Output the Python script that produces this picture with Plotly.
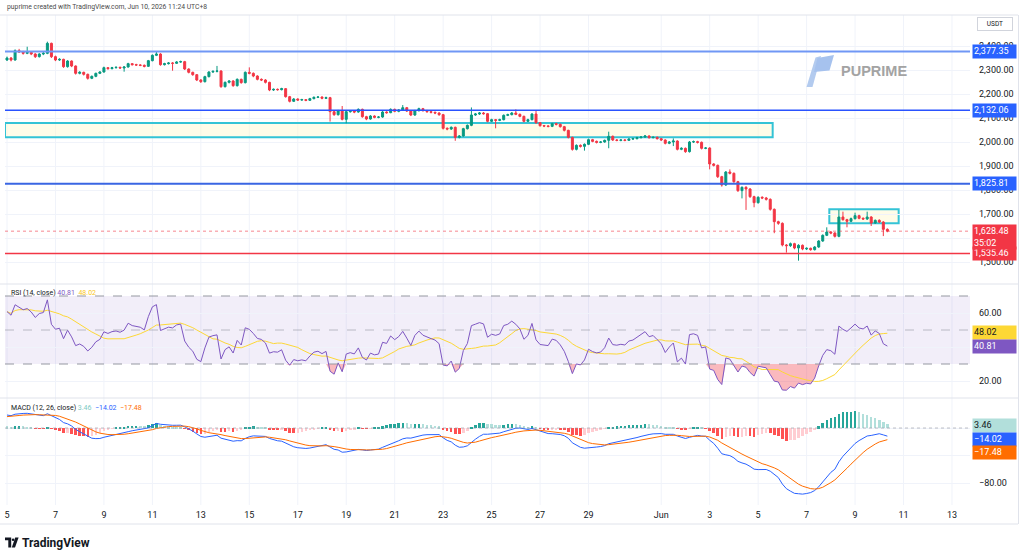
import numpy as np
import pandas as pd
import plotly.graph_objects as go

W, H = 1024, 558

# ---------------- data: 4h candles (UTC+8) ----------------
START = "2026-05-05 00:00"
FIRST_OPEN = 2341.7

closes = [
    2350.0, 2341.7, 2380.6, 2375.0, 2369.5, 2373.6, 2366.7, 2355.6, 2366.7, 2369.5,
    2411.1, 2355.6, 2341.7, 2344.5, 2313.9, 2337.5, 2316.7, 2286.1, 2290.3, 2282.0,
    2265.3, 2273.6, 2286.1, 2291.7, 2309.7, 2305.6, 2309.7, 2311.1, 2308.4, 2312.5,
    2326.4, 2322.2, 2320.9, 2319.5, 2315.3, 2338.9, 2361.1, 2366.7, 2322.2, 2326.4,
    2329.2, 2327.8, 2333.4, 2334.8, 2304.2, 2290.3, 2280.6, 2258.4, 2251.4, 2272.3,
    2291.7, 2294.5, 2295.9, 2230.6, 2248.6, 2254.2, 2234.8, 2261.1, 2247.3, 2290.3,
    2286.1, 2275.0, 2261.1, 2258.4, 2248.6, 2216.7, 2219.5, 2218.1, 2222.3, 2188.9,
    2169.5, 2179.2, 2175.0, 2176.4, 2173.6, 2180.6, 2186.1, 2187.5, 2182.0, 2184.8,
    2126.4, 2113.9, 2130.5, 2094.4, 2126.4, 2129.1, 2125.0, 2136.1, 2105.5, 2095.8,
    2108.3, 2102.8, 2104.1, 2125.0, 2122.2, 2136.1, 2127.8, 2133.3, 2143.0, 2129.1,
    2112.5, 2130.5, 2138.9, 2130.5, 2126.4, 2123.6, 2120.8, 2113.9, 2057.0, 2054.2,
    2061.1, 2019.4, 2025.0, 2055.6, 2069.4, 2112.5, 2116.6, 2120.8, 2118.0, 2086.1,
    2093.0, 2090.2, 2093.0, 2111.1, 2113.9, 2120.8, 2115.2, 2106.9, 2086.1, 2093.0,
    2116.6, 2080.5, 2068.0, 2066.6, 2065.2, 2076.4, 2073.6, 2063.9, 2048.6, 2019.4,
    1969.4, 1986.1, 1981.9, 1990.3, 2009.7, 2002.7, 1998.6, 2000.0, 2006.9, 2023.6,
    2008.3, 2006.9, 2008.3, 2006.9, 2012.5, 2013.9, 2018.0, 2020.8, 2025.0, 2018.0,
    2019.4, 2013.9, 2008.4, 1994.5, 2000.0, 2004.2, 1969.5, 1973.6, 1959.8, 2000.0,
    2001.4, 1998.6, 1973.6, 1975.0, 1908.4, 1902.8, 1855.6, 1820.9, 1875.0, 1869.5,
    1834.7, 1797.3, 1811.1, 1804.2, 1772.3, 1747.3, 1769.5, 1766.7, 1761.1, 1719.5,
    1668.1, 1661.1, 1570.9, 1568.1, 1576.4, 1558.4, 1569.5, 1554.2, 1557.0, 1551.4,
    1562.5, 1587.5, 1611.1, 1625.0, 1620.9, 1607.0, 1687.5, 1676.4, 1669.5, 1680.6,
    1693.1, 1682.0, 1679.2, 1687.5, 1662.5, 1673.6, 1666.7, 1636.1, 1628.48,
]
highs = [
    2356, 2354, 2386, 2388, 2380, 2397, 2378, 2370, 2370, 2375,
    2418, 2414, 2360, 2349, 2347, 2341, 2340, 2319, 2295, 2293,
    2285, 2277, 2289, 2295, 2314, 2312, 2313, 2315, 2314, 2316,
    2330, 2329, 2326, 2324, 2323, 2342, 2365, 2376, 2370, 2330,
    2333, 2333, 2337, 2339, 2338, 2307, 2293, 2283, 2262, 2276,
    2295, 2298, 2317, 2299, 2252, 2258, 2258, 2265, 2264, 2294,
    2311, 2290, 2278, 2265, 2262, 2251, 2223, 2223, 2226, 2225,
    2192, 2183, 2182, 2180, 2179, 2184, 2190, 2191, 2190, 2189,
    2188, 2130, 2134, 2150, 2130, 2133, 2133, 2140, 2139, 2109,
    2112, 2111, 2108, 2129, 2128, 2140, 2139, 2137, 2154, 2146,
    2132, 2134, 2143, 2142, 2134, 2129, 2127, 2124, 2117, 2061,
    2065, 2064, 2029, 2059, 2073, 2144, 2121, 2125, 2125, 2121,
    2097, 2096, 2097, 2115, 2118, 2125, 2136, 2119, 2110, 2097,
    2120, 2133, 2083, 2071, 2070, 2080, 2080, 2077, 2067, 2051,
    2022, 1990, 1990, 1994, 2014, 2013, 2006, 2004, 2010, 2043,
    2027, 2012, 2012, 2012, 2016, 2018, 2022, 2025, 2029, 2028,
    2024, 2023, 2017, 2011, 2004, 2015, 2007, 1978, 1977, 2004,
    2006, 2005, 2002, 1979, 1978, 1912, 1906, 1859, 1879, 1886,
    1873, 1838, 1815, 1816, 1808, 1776, 1774, 1774, 1771, 1765,
    1723, 1672, 1665, 1575, 1581, 1580, 1574, 1573, 1561, 1560,
    1566, 1591, 1615, 1644.5, 1629, 1624, 1716.7, 1709.7, 1680, 1685,
    1705.6, 1697, 1686, 1709.7, 1691, 1677, 1678, 1670, 1640,
]
lows = [
    2338, 2336, 2339, 2371, 2364, 2366, 2362, 2350, 2352, 2362,
    2366, 2350, 2337, 2338, 2309, 2310, 2312, 2281, 2282, 2277,
    2260, 2262, 2270, 2283, 2289, 2302, 2303, 2306, 2305, 2293,
    2310, 2319, 2317, 2316, 2311, 2313, 2336, 2358, 2318, 2319,
    2323, 2297, 2325, 2330, 2300, 2286, 2276, 2254, 2246, 2248,
    2269, 2288, 2290, 2226, 2227, 2244, 2230, 2231, 2243, 2244,
    2282, 2270, 2257, 2254, 2244, 2212, 2213, 2214, 2215, 2185,
    2165, 2167, 2171, 2172, 2170, 2171, 2178, 2183, 2178, 2179,
    2085, 2109, 2110, 2090, 2078, 2122, 2120, 2122, 2101, 2091,
    2093, 2099, 2099, 2101, 2118, 2120, 2124, 2124, 2130, 2125,
    2108, 2109, 2127, 2127, 2122, 2119, 2116, 2109, 2052, 2049,
    2050, 2005, 2015, 2022, 2052, 2066, 2109, 2113, 2114, 2082,
    2083, 2057, 2087, 2090, 2108, 2111, 2112, 2103, 2082, 2083,
    2090, 2076, 2064, 2062, 2061, 2062, 2069, 2060, 2044, 2015,
    1964, 1965, 1977, 1964, 1987, 1999, 1994, 1995, 1997, 1974,
    2004, 2003, 2003, 2003, 2004, 2009, 2011, 2015, 2017, 2014,
    2015, 2010, 2004, 1990, 1991, 1983, 1965, 1966, 1955, 1956,
    1996, 1994, 1969, 1970, 1886, 1898, 1850, 1814, 1817, 1865,
    1830, 1792, 1765, 1717, 1767, 1728, 1743, 1762, 1756, 1714,
    1620, 1655, 1565, 1539, 1563, 1553, 1505.6, 1549, 1550, 1547,
    1548, 1559, 1584, 1608, 1616, 1602, 1603, 1672, 1644.5, 1666,
    1677, 1678, 1675, 1675, 1650, 1659, 1662, 1608, 1624,
]

# indicator state at the left edge of the visible window
RSI_AVG_GAIN0, RSI_AVG_LOSS0 = 11.0, 7.5
EMA12_0, EMA26_0, SIGNAL0 = 2333.7, 2314.7, 16.0

# drawings / price levels
level_values = [2377.35, 2132.06, 1825.81, 1535.46]
level_colors = ["#7097f5", "#2952ff", "#3a66e3", "#f23645"]
level_widths = [2, 1.5, 2, 1.5]
level_box = ["#2962ff", "#2962ff", "#2962ff", "#f23645"]
last_price = 1628.48
countdown = "35:02"
zone1_low, zone1_high, zone1_end = 2020.0, 2079.0, "2026-06-05 14:24"
zone2_low, zone2_high = 1661.2, 1719.6
zone2_start, zone2_end = "2026-06-07 22:30", "2026-06-10 19:12"

# last indicator values shown in the legends / scale
rsi_last, rsi_ma_last = 40.81, 48.02
hist_last, macd_last, signal_last = 3.46, -14.02, -17.48

# axis ticks (labels hidden behind value boxes are left blank)
day_ticks = ["2026-05-05", "2026-05-07", "2026-05-09", "2026-05-11", "2026-05-13",
             "2026-05-15", "2026-05-17", "2026-05-19", "2026-05-21", "2026-05-23",
             "2026-05-25", "2026-05-27", "2026-05-29", "2026-06-01", "2026-06-03",
             "2026-06-05", "2026-06-07", "2026-06-09", "2026-06-11", "2026-06-13"]
day_labels = ["5", "7", "9", "11", "13", "15", "17", "19", "21", "23", "25", "27",
              "29", "Jun", "3", "5", "7", "9", "11", "13"]
price_ticks = [1500, 1600, 1700, 1800, 1900, 2000, 2100, 2200, 2300, 2400]
price_labels = ["1,500.00", "", "1,700.00", "1,800.00", "1,900.00", "2,000.00",
                "2,100.00", "2,200.00", "2,300.00", "2,400.00"]
rsi_ticks = [20, 40, 60]
rsi_labels = ["20.00", "", "60.00"]
macd_ticks = [0, -40, -80]
macd_labels = ["", "", "\u221280.00"]

# ---------------- derived series ----------------
t = pd.date_range(START, periods=len(closes), freq="4h")
c = np.array(closes, float)
o = np.concatenate([[FIRST_OPEN], c[:-1]])
n = len(c)

ag, al = RSI_AVG_GAIN0, RSI_AVG_LOSS0
rsi = np.empty(n)
for k in range(n):
    d = c[k] - o[k]
    ag = (ag * 13 + max(d, 0)) / 14
    al = (al * 13 + max(-d, 0)) / 14
    rsi[k] = 100 - 100 / (1 + ag / al) if al > 0 else 100
rsi_ma = pd.Series(rsi).rolling(14, min_periods=1).mean().values

a12, a26, a9 = 2 / 13, 2 / 27, 2 / 10
e12, e26, sg = EMA12_0, EMA26_0, SIGNAL0
prev_h = (EMA12_0 - EMA26_0) - SIGNAL0
macd = np.empty(n); sig = np.empty(n); hist = np.empty(n); hcol = []
for k in range(n):
    e12 = a12 * c[k] + (1 - a12) * e12
    e26 = a26 * c[k] + (1 - a26) * e26
    m = e12 - e26
    sg = a9 * m + (1 - a9) * sg
    macd[k], sig[k] = m, sg
    h = m - sg
    hist[k] = h
    if h >= 0:
        hcol.append("#26a69a" if h > prev_h else "#b2dfdb")
    else:
        hcol.append("#ff5252" if h < prev_h else "#ffcdd2")
    prev_h = h

# ---------------- geometry helpers ----------------
def px(x):
    return x / W

def py(y):
    return 1 - y / H

DAYPX = 24.23
X0PIX = 7.0
t0 = pd.Timestamp(START)
def tx(pix):
    return t0 + pd.Timedelta(days=(pix - X0PIX) / DAYPX)

x_range = [tx(5), tx(970)]
FONT = "Roboto, Liberation Sans, sans-serif"
TXT = "#131722"
GRID = "#f0f3fa"
BORDER = "#e0e3eb"

fig = go.Figure()

# ---- main pane ----
fig.add_trace(go.Candlestick(
    x=t, open=o, high=highs, low=lows, close=c, xaxis="x", yaxis="y",
    increasing=dict(line=dict(color="#089981", width=1), fillcolor="#089981"),
    decreasing=dict(line=dict(color="#f23645", width=1), fillcolor="#f23645"),
    whiskerwidth=0, hoverinfo="skip", showlegend=False))

# ---- RSI pane ----
fig.add_trace(go.Scatter(x=t, y=np.full(n, 30.0), yaxis="y2", mode="lines",
                         line=dict(width=0, color="rgba(0,0,0,0)"), hoverinfo="skip"))
fig.add_trace(go.Scatter(x=t, y=np.minimum(rsi, 30), yaxis="y2", mode="lines",
                         line=dict(width=0, color="rgba(0,0,0,0)"), fill="tonexty",
                         fillcolor="rgba(242,54,69,0.35)", hoverinfo="skip"))
fig.add_trace(go.Scatter(x=t, y=np.full(n, 70.0), yaxis="y2", mode="lines",
                         line=dict(width=0, color="rgba(0,0,0,0)"), hoverinfo="skip"))
fig.add_trace(go.Scatter(x=t, y=np.maximum(rsi, 70), yaxis="y2", mode="lines",
                         line=dict(width=0, color="rgba(0,0,0,0)"), fill="tonexty",
                         fillcolor="rgba(8,153,129,0.3)", hoverinfo="skip"))
fig.add_trace(go.Scatter(x=t, y=rsi_ma, yaxis="y2", mode="lines",
                         line=dict(width=1, color="#fdd835"), hoverinfo="skip"))
fig.add_trace(go.Scatter(x=t, y=rsi, yaxis="y2", mode="lines",
                         line=dict(width=1, color="#7e57c2"), hoverinfo="skip"))

# ---- MACD pane ----
fig.add_trace(go.Bar(x=t, y=hist, yaxis="y3", marker=dict(color=hcol, line=dict(width=0)),
                     width=4 * 3600 * 1000 * 0.62, hoverinfo="skip"))
fig.add_trace(go.Scatter(x=t, y=macd, yaxis="y3", mode="lines",
                         line=dict(width=1, color="#2962ff"), hoverinfo="skip"))
fig.add_trace(go.Scatter(x=t, y=sig, yaxis="y3", mode="lines",
                         line=dict(width=1, color="#ff6d00"), hoverinfo="skip"))

shapes = []
# vertical grid lines at the date ticks
for d in day_ticks:
    shapes.append(dict(type="line", xref="x", yref="paper", x0=d, x1=d,
                       y0=py(505), y1=py(15), line=dict(color=GRID, width=1), layer="below"))
# pane borders
for yy in (15, 284, 398, 524):
    shapes.append(dict(type="line", xref="paper", yref="paper", x0=0, x1=px(1018),
                       y0=py(yy), y1=py(yy), line=dict(color=BORDER, width=1)))
shapes.append(dict(type="line", xref="paper", yref="paper", x0=px(1018.5), x1=px(1018.5),
                   y0=py(524), y1=py(15), line=dict(color=BORDER, width=1)))

# zones
shapes.append(dict(type="rect", xref="x", yref="y", x0=x_range[0], x1=zone1_end,
                   y0=zone1_low, y1=zone1_high, fillcolor="rgba(255,249,205,0.45)",
                   line=dict(color="#34c3d6", width=2), layer="below"))
shapes.append(dict(type="rect", xref="x", yref="y", x0=zone2_start, x1=zone2_end,
                   y0=zone2_low, y1=zone2_high, fillcolor="rgba(255,249,205,0.45)",
                   line=dict(color="#34c3d6", width=2), layer="below"))
# horizontal levels
for v, col, wd in zip(level_values, level_colors, level_widths):
    shapes.append(dict(type="line", xref="x domain", yref="y", x0=0, x1=1, y0=v, y1=v,
                       line=dict(color=col, width=wd)))
shapes.append(dict(type="line", xref="x domain", yref="y", x0=0, x1=1, y0=last_price,
                   y1=last_price, line=dict(color="rgba(242,54,69,0.6)", width=1, dash="dot")))

# RSI band + guides
shapes.append(dict(type="rect", xref="x domain", yref="y2", x0=0, x1=1, y0=30, y1=70,
                   fillcolor="rgba(126,87,194,0.1)", line=dict(width=0), layer="below"))
for v, colr in ((70, "#9598a1"), (50, "rgba(149,152,161,0.6)"), (30, "#9598a1")):
    shapes.append(dict(type="line", xref="x domain", yref="y2", x0=0, x1=1, y0=v, y1=v,
                       line=dict(color=colr, width=1, dash="dash")))
# MACD zero line
shapes.append(dict(type="line", xref="x domain", yref="y3", x0=0, x1=1, y0=0, y1=0,
                   line=dict(color="rgba(149,152,161,0.6)", width=1, dash="dot")))

# PUPRIME watermark icon
def pth(pts):
    return "M " + " L ".join(f"{px(a):.5f} {py(b):.5f}" for a, b in pts) + " Z"

shapes.append(dict(type="path", xref="paper", yref="paper",
                   path=pth([(806.5, 87), (815.5, 57.5), (821, 56), (812.5, 87)]),
                   fillcolor="#b3cbef", line=dict(width=0)))
shapes.append(dict(type="path", xref="paper", yref="paper",
                   path=pth([(817.5, 58), (834, 55), (829.5, 70.5), (814, 72)]),
                   fillcolor="#a6c2ee", line=dict(width=0)))
# TradingView logo glyph
shapes.append(dict(type="path", xref="paper", yref="paper",
                   path=pth([(5, 537.5), (11.2, 537.5), (11.2, 547.5), (8.3, 547.5), (8.3, 540.3), (5, 540.3)]),
                   fillcolor=TXT, line=dict(width=0)))
shapes.append(dict(type="circle", xref="paper", yref="paper", x0=px(11.8), x1=px(14.4),
                   y0=py(541), y1=py(538.4), fillcolor=TXT, line=dict(width=0)))
shapes.append(dict(type="path", xref="paper", yref="paper",
                   path=pth([(15.2, 537.5), (18.6, 537.5), (15.0, 547.5), (11.8, 547.5)]),
                   fillcolor=TXT, line=dict(width=0)))

ann = []
def label(y, yref, text, bg, fg="white", yshift=0, yanchor="middle", h=10.5):
    ann.append(dict(xref="paper", x=px(972), xanchor="left", yref=yref, y=y, yanchor=yanchor,
                    yshift=yshift, text=text, showarrow=False, bgcolor=bg, align="left",
                    width=41, height=h, valign="middle", borderpad=1,
                    font=dict(family=FONT, size=9, color=fg)))

for v, bg in zip(level_values, level_box):
    label(v, "y", f"{v:,.2f}", bg)
label(last_price, "y", f"{last_price:,.2f}<br>{countdown}", "#f23645", yanchor="top",
      yshift=7, h=22)
label(rsi_ma_last, "y2", f"{rsi_ma_last:.2f}", "#fdd835", fg=TXT, yshift=0.5)
label(rsi_last, "y2", f"{rsi_last:.2f}", "#7e57c2", yshift=-0.5)
label(hist_last, "y3", f"{hist_last:.2f}", "#b2dfdb", fg=TXT, yshift=0.5)
label(macd_last, "y3", f"\u2212{abs(macd_last):.2f}", "#2962ff", yshift=-1.5)
label(signal_last, "y3", f"\u2212{abs(signal_last):.2f}", "#ff6d00", yshift=-12)

def txt(x, y, text, size, color=TXT, family=FONT, anchor="left"):
    ann.append(dict(xref="paper", yref="paper", x=px(x), y=py(y), xanchor=anchor,
                    yanchor="middle", text=text, showarrow=False,
                    font=dict(family=family, size=size, color=color)))

txt(5, 7.5, "puprime created with TradingView.com, Jun 10, 2026 11:24 UTC+8", 6.8, "#4a4a4a")
txt(9, 293, "RSI (14, close) <span style='color:#7e57c2'>%.2f</span>  "
            "<span style='color:#f9c623'>%.2f</span>" % (rsi_last, rsi_ma_last), 7)
txt(9, 408, "MACD (12, 26, close) <span style='color:#80cbc4'>%.2f</span>  "
            "<span style='color:#2962ff'>\u2212%.2f</span>  <span style='color:#ff6d00'>\u2212%.2f</span>"
    % (hist_last, abs(macd_last), abs(signal_last)), 7)
txt(839, 71.5, "<b>PUPRIME</b>", 14.5, "#a3a3a3", "Liberation Sans, Arial, sans-serif")
txt(20, 542.5, "<b>TradingView</b>", 12, TXT)
ann.append(dict(xref="paper", yref="paper", x=px(995), y=py(24), xanchor="center",
                yanchor="middle", text="USDT", showarrow=False, bgcolor="white",
                bordercolor="#d1d4dc", borderwidth=1, borderpad=2, width=30,
                font=dict(family=FONT, size=6.5, color=TXT)))

XD = [px(5), px(970)]
yaxis_common = dict(anchor="x", side="right", showgrid=True, gridcolor=GRID, zeroline=False,
                    showline=False, ticks="", ticklabelstandoff=8, fixedrange=True,
                    tickfont=dict(family=FONT, size=9, color=TXT))

fig.update_layout(
    width=W, height=H, margin=dict(l=0, r=0, t=0, b=0), showlegend=False,
    paper_bgcolor="white", plot_bgcolor="white", hovermode=False, bargap=0,
    shapes=shapes, annotations=ann,
    xaxis=dict(domain=XD, anchor="y3", type="date", range=x_range, tickvals=day_ticks,
               ticktext=day_labels, showgrid=False, zeroline=False, showline=False, ticks="",
               ticklabelstandoff=3, rangeslider=dict(visible=False),
               tickfont=dict(family=FONT, size=9, color=TXT)),
    yaxis=dict(domain=[py(283), py(15)], range=[1412.5, 2529.2], tickvals=price_ticks,
               ticktext=price_labels, **yaxis_common),
    yaxis2=dict(domain=[py(397), py(285)], range=[10.59, 76.47], tickvals=rsi_ticks,
                ticktext=rsi_labels, **yaxis_common),
    yaxis3=dict(domain=[py(505), py(399)], range=[-112.0, 42.2], tickvals=macd_ticks,
                ticktext=macd_labels, **yaxis_common),
)

fig.write_html("out.html")
